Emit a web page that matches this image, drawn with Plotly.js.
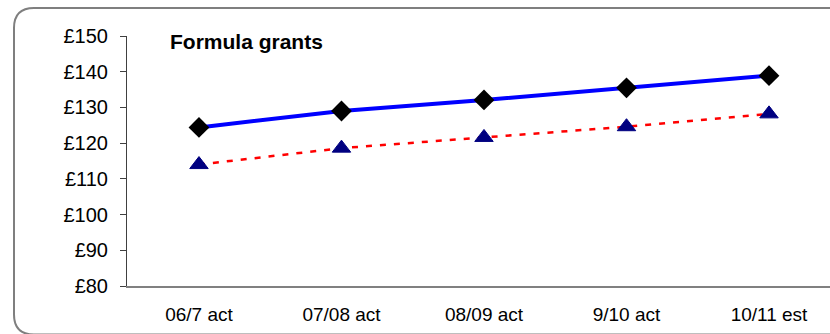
<!DOCTYPE html>
<html>
<head>
<meta charset="utf-8">
<script src="https://cdn.plot.ly/plotly-3.0.1.min.js"></script>
<style>
html,body{margin:0;padding:0;background:#fff;}
#chart{width:830px;height:334px;}
</style>
</head>
<body>
<div id="chart"></div>
<script>
// ---- data ----
const categories = ["06/7 act", "07/08 act", "08/09 act", "9/10 act", "10/11 est"];
const seriesA = [124.4, 129.0, 132.1, 135.5, 138.9];   // blue line, black diamonds
const seriesB = [114.0, 118.6, 121.6, 124.6, 128.2];   // red dotted line, navy triangles
const yTickVals = [80, 90, 100, 110, 120, 130, 140, 150];
const yTickText = ["£80", "£90", "£100", "£110", "£120", "£130", "£140", "£150"];
const chartTitle = "Formula grants";

// ---- layout geometry (pixels) ----
const W = 830, H = 334;
const mL = 127, mR = 0, mT = 36, mB = 48;
const pw = W - mL - mR, ph = H - mT - mB;
function px2x(p){ return (p - mL) / pw; }
function px2y(p){ return (H - mB - p) / ph; }

// rounded border
const bL = px2x(14), bR = px2x(850), bT = px2y(8), bB = px2y(334.5);
const rx = 20 / pw, ry = 20 / ph;
const borderPath =
  `M${bL},${bB + ry} L${bL},${bT - ry} Q${bL},${bT} ${bL + rx},${bT} ` +
  `L${bR - rx},${bT} Q${bR},${bT} ${bR},${bT - ry} L${bR},${bB + ry} ` +
  `Q${bR},${bB} ${bR - rx},${bB} L${bL + rx},${bB} Q${bL},${bB} ${bL},${bB + ry} Z`;

const font = "Liberation Sans, Arial, sans-serif";

const traces = [
  {
    x: categories, y: seriesB, type: "scatter", mode: "lines+markers",
    line: {color: "#FF0000", width: 2.5, dash: "6px,8px"},
    marker: {symbol: "triangle-up", size: 16, color: "#000080", line: {color: "#000080", width: 1}},
    hoverinfo: "skip", cliponaxis: false
  },
  {
    x: categories, y: seriesA, type: "scatter", mode: "lines+markers",
    line: {color: "#0000FF", width: 4},
    marker: {symbol: "diamond", size: 16, color: "#000000"},
    hoverinfo: "skip", cliponaxis: false
  }
];

const layout = {
  width: W, height: H,
  margin: {l: mL, r: mR, t: mT, b: mB, pad: 0},
  paper_bgcolor: "#ffffff", plot_bgcolor: "#ffffff",
  showlegend: false,
  title: {
    text: "<b>" + chartTitle + "</b>",
    font: {family: font, size: 21, color: "#000000"},
    xref: "container", x: 170 / W, xanchor: "left",
    yref: "container", y: 1 - 41.5 / H, yanchor: "middle"
  },
  xaxis: {
    type: "category",
    range: [-0.505, 4.428],
    showgrid: false, zeroline: false,
    showline: true, linecolor: "#808080", linewidth: 2,
    ticks: "", ticklabelstandoff: 10,
    tickfont: {family: font, size: 19, color: "#000000"},
    fixedrange: true
  },
  yaxis: {
    range: [80, 150],
    tickvals: yTickVals, ticktext: yTickText,
    showgrid: false, zeroline: false,
    showline: true, linecolor: "#404040", linewidth: 1,
    ticks: "outside", ticklen: 6, tickcolor: "#404040", tickwidth: 1,
    ticklabelstandoff: 8,
    tickfont: {family: font, size: 20, color: "#000000"},
    fixedrange: true
  },
  shapes: [{
    type: "path", xref: "paper", yref: "paper", path: borderPath,
    line: {color: "#7f7f7f", width: 2}, fillcolor: "rgba(0,0,0,0)", layer: "below"
  }]
};

Plotly.newPlot("chart", traces, layout, {staticPlot: true, displayModeBar: false});
</script>
</body>
</html>
